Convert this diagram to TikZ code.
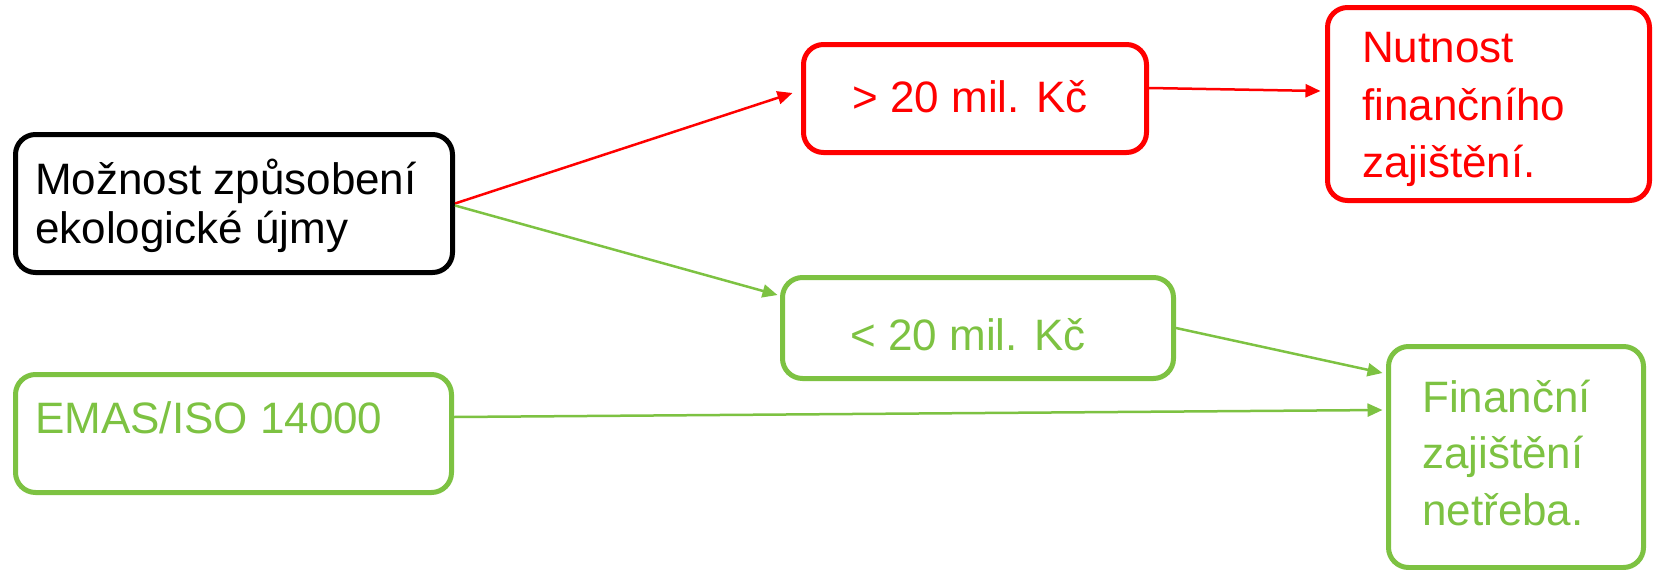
\documentclass[tikz,border=0pt]{standalone}
\usepackage{fontspec}
\setmainfont{Liberation Sans}
\usetikzlibrary{arrows.meta}
\definecolor{gr}{RGB}{125,194,66}
\definecolor{rd}{RGB}{255,0,0}
\tikzset{
  box/.style={rectangle, rounded corners=20pt, line width=5pt, inner sep=0pt},
  txt/.style={anchor=base west, inner sep=0pt, font=\fontsize{44}{50}\selectfont},
  ctxt/.style={anchor=base, inner sep=0pt, font=\fontsize{44}{50}\selectfont},
  conn/.style={line width=2.5pt, -{Triangle[length=15pt,width=13pt]}}
}
\begin{document}
\begin{tikzpicture}[x=1pt,y=-1pt]
\useasboundingbox (0,0) rectangle (1658,570);
% boxes
\node[box, draw=black, minimum width=437pt, minimum height=138pt] (b1) at (234,203.5) {};
\node[box, draw=rd, minimum width=343pt, minimum height=108pt] (r1) at (975,98.5) {};
\node[box, draw=rd, minimum width=322pt, minimum height=193pt] (r2) at (1488.5,104) {};
\node[box, draw=gr, minimum width=391pt, minimum height=101pt] (g1) at (978,328) {};
\node[box, draw=gr, minimum width=436pt, minimum height=118pt] (e) at (233.5,433.5) {};
\node[box, draw=gr, minimum width=255pt, minimum height=221pt] (g2) at (1516,457) {};
% texts
\node[txt] (b1t1) at (35,194) {Možnost způsobení};
\node[txt] (b1t2) at (35,243) {ekologické újmy};
\node[ctxt, text=rd] (r1t) at (970,112) {> 20 mil. Kč};
\node[txt, text=rd] (r2t1) at (1362,62) {Nutnost};
\node[txt, text=rd] (r2t2) at (1362,120) {finančního};
\node[txt, text=rd] (r2t3) at (1362,177) {zajištění.};
\node[ctxt, text=gr] (g1t) at (968,350) {< 20 mil. Kč};
\node[txt, text=gr] (et) at (35,433) {EMAS/ISO 14000};
\node[txt, text=gr] (g2t1) at (1422,412) {Finanční};
\node[txt, text=gr] (g2t2) at (1422,468) {zajištění};
\node[txt, text=gr] (g2t3) at (1422,525) {netřeba.};
% connectors
\draw[conn, draw=rd, fill=rd] (b1.east) -- ([xshift=-8.5pt,yshift=5.5pt]r1.west);
\draw[conn, draw=gr, fill=gr] ([yshift=-2pt]b1.east) -- ([xshift=-2.5pt,yshift=33pt]g1.west);
\draw[conn, draw=rd, fill=rd] ([yshift=10.5pt]r1.east) -- ([xshift=-4.5pt,yshift=13pt]r2.west);
\draw[conn, draw=gr, fill=gr] (g1.east) -- ([xshift=-3.5pt,yshift=84pt]g2.west);
\draw[conn, draw=gr, fill=gr] ([yshift=16.5pt]e.east) -- ([xshift=-3.5pt,yshift=47pt]g2.west);
\end{tikzpicture}
\end{document}
